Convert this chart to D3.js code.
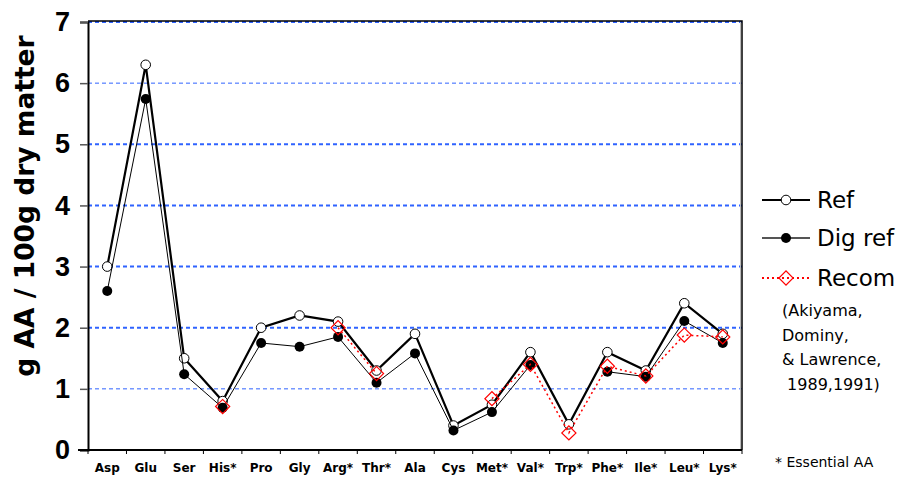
<!DOCTYPE html>
<html>
<head>
<meta charset="utf-8">
<script src="https://cdn.jsdelivr.net/npm/d3@7/dist/d3.min.js"></script>
<style>
  body { margin: 0; background: #fff; }
  svg { display: block; }
</style>
</head>
<body>
<div id="chart"></div>
<script>
// amino acids along the x axis
const aminoAcids = ["Asp", "Glu", "Ser", "His*", "Pro", "Gly", "Arg*", "Thr*", "Ala",
  "Cys", "Met*", "Val*", "Trp*", "Phe*", "Ile*", "Leu*", "Lys*"];

// g AA / 100g dry matter
const refValues = [3.0, 6.3, 1.5, 0.8, 2.0, 2.2, 2.1, 1.3, 1.9, 0.4, 0.74, 1.6, 0.42, 1.6, 1.3, 2.4, 1.9];
const digRefValues = [2.6, 5.74, 1.24, 0.69, 1.75, 1.69, 1.85, 1.1, 1.58, 0.32, 0.62, 1.39, null, 1.28, 1.2, 2.11, 1.75];
const recomValues = [null, null, null, 0.71, null, null, 2.0, 1.25, null, null, 0.84, 1.4, 0.28, 1.37, 1.21, 1.88, 1.85];

const yTicks = [0, 1, 2, 3, 4, 5, 6, 7];
const noteLines = ["(Akiyama,", "Dominy,", "& Lawrence,", " 1989,1991)"];

const width = 906, height = 478;
const margin = { top: 22, right: 164, bottom: 28, left: 88 };

const svg = d3.select("#chart").append("svg")
  .attr("width", width)
  .attr("height", height);

const x = d3.scaleBand()
  .domain(aminoAcids)
  .range([margin.left, width - margin.right]);

const y = d3.scaleLinear()
  .domain([0, 7])
  .range([height - margin.bottom, margin.top]);

const xc = d => x(d) + x.bandwidth() / 2;

// grid lines (blue dashed)
svg.append("g").selectAll("line")
  .data(yTicks.filter(t => t > 0))
  .join("line")
  .attr("x1", margin.left)
  .attr("x2", width - margin.right)
  .attr("y1", d => y(d))
  .attr("y2", d => y(d))
  .attr("stroke", "#2f63ff")
  .attr("stroke-width", d => (d === 1 || d === 6) ? 1 : 2)
  .attr("stroke-dasharray", "4,3");

// frame top & right
svg.append("path")
  .attr("d", `M${margin.left},${y(7) - 1}H${width - margin.right}V${y(0)}`)
  .attr("fill", "none")
  .attr("stroke", "#000")
  .attr("stroke-width", 1.5);
svg.append("line")
  .attr("x1", width - margin.right - 1.5).attr("x2", width - margin.right - 1.5)
  .attr("y1", y(7)).attr("y2", y(0))
  .attr("stroke", "#bbb").attr("stroke-width", 1);

// y axis
const yAxis = svg.append("g")
  .attr("transform", `translate(${margin.left},0)`)
  .call(d3.axisLeft(y).tickValues(yTicks).tickSize(8).tickPadding(10).tickFormat(d3.format("d")));
yAxis.select(".domain").attr("stroke-width", 2);
yAxis.selectAll(".tick line").attr("stroke", "#555").attr("stroke-width", 1.5);
yAxis.selectAll("text")
  .style("font-family", "'Liberation Sans', Arial, sans-serif")
  .style("font-weight", "bold")
  .style("font-size", "27px")
  .attr("fill", "#000");

// x axis
const xAxis = svg.append("g")
  .attr("transform", `translate(0,${y(0)})`);
xAxis.append("line")
  .attr("x1", margin.left - 10).attr("x2", width - margin.right)
  .attr("stroke", "#000").attr("stroke-width", 2);
xAxis.selectAll(".xtick")
  .data(aminoAcids)
  .join("line")
  .attr("class", "xtick")
  .attr("x1", d => x(d))
  .attr("x2", d => x(d))
  .attr("y1", 0).attr("y2", 4)
  .attr("stroke", "#000").attr("stroke-width", 1);
xAxis.append("line")
  .attr("x1", width - margin.right).attr("x2", width - margin.right)
  .attr("y1", 0).attr("y2", 4)
  .attr("stroke", "#000").attr("stroke-width", 1);
xAxis.selectAll(".xlabel")
  .data(aminoAcids)
  .join("text")
  .attr("class", "xlabel")
  .attr("x", d => xc(d))
  .attr("y", 22)
  .attr("text-anchor", "middle")
  .style("font-family", "'DejaVu Sans', Verdana, sans-serif")
  .style("font-weight", "bold")
  .style("font-size", "12px")
  .text(d => d);

// y axis title
svg.append("text")
  .attr("transform", `translate(34,206) rotate(-90)`)
  .attr("text-anchor", "middle")
  .style("font-family", "'DejaVu Sans', Verdana, sans-serif")
  .style("font-weight", "bold")
  .style("font-size", "26.5px")
  .text("g AA / 100g dry matter");

// series
const series = [
  { name: "Ref", values: refValues, stroke: "#000", width: 2.2, dash: null, marker: "open" },
  { name: "Dig ref", values: digRefValues, stroke: "#000", width: 1, dash: null, marker: "filled" },
  { name: "Recom", values: recomValues, stroke: "#ff0000", width: 1.5, dash: "2,3", marker: "diamond" }
];

const line = d3.line()
  .defined(d => d.v != null)
  .x(d => xc(d.k))
  .y(d => y(d.v));

function drawMarker(g, type, cx, cy) {
  if (type === "open") {
    g.append("circle").attr("cx", cx).attr("cy", cy).attr("r", 4.8)
      .attr("fill", "#fff").attr("stroke", "#000").attr("stroke-width", 1);
  } else if (type === "filled") {
    g.append("circle").attr("cx", cx).attr("cy", cy).attr("r", 5)
      .attr("fill", "#000");
  } else {
    g.append("path")
      .attr("d", d3.symbol(d3.symbolSquare, 100)())
      .attr("transform", `translate(${cx},${cy}) rotate(45)`)
      .attr("fill", "none").attr("stroke", "#ff0000").attr("stroke-width", 1.2);
  }
}

series.forEach(s => {
  const pts = aminoAcids.map((k, i) => ({ k: k, v: s.values[i] }));
  const g = svg.append("g");
  g.append("path")
    .datum(pts)
    .attr("d", line)
    .attr("fill", "none")
    .attr("stroke", s.stroke)
    .attr("stroke-width", s.width)
    .attr("stroke-dasharray", s.dash);
  pts.filter(p => p.v != null).forEach(p => drawMarker(g, s.marker, xc(p.k), y(p.v)));
});

// legend
const legend = svg.append("g");
const legendY = [200, 238, 278];
series.forEach((s, i) => {
  const ly = legendY[i];
  legend.append("line")
    .attr("x1", 762).attr("x2", 810)
    .attr("y1", ly).attr("y2", ly)
    .attr("stroke", i === 1 ? "#555" : s.stroke)
    .attr("stroke-width", 2)
    .attr("stroke-dasharray", s.dash);
  drawMarker(legend, s.marker, 786, ly);
  legend.append("text")
    .attr("x", 817).attr("y", ly + 8)
    .style("font-family", "'DejaVu Sans', Verdana, sans-serif")
    .style("font-size", "23px")
    .text(s.name);
});

legend.selectAll(".note")
  .data(noteLines)
  .join("text")
  .attr("class", "note")
  .attr("x", 782)
  .attr("y", (d, i) => 316 + i * 24.5)
  .attr("xml:space", "preserve")
  .style("white-space", "pre")
  .style("font-family", "'DejaVu Sans', Verdana, sans-serif")
  .style("font-size", "16px")
  .text(d => d);

svg.append("text")
  .attr("x", 775).attr("y", 467)
  .style("font-family", "'DejaVu Sans', Verdana, sans-serif")
  .style("font-size", "14px")
  .text("* Essential AA");
</script>
</body>
</html>
